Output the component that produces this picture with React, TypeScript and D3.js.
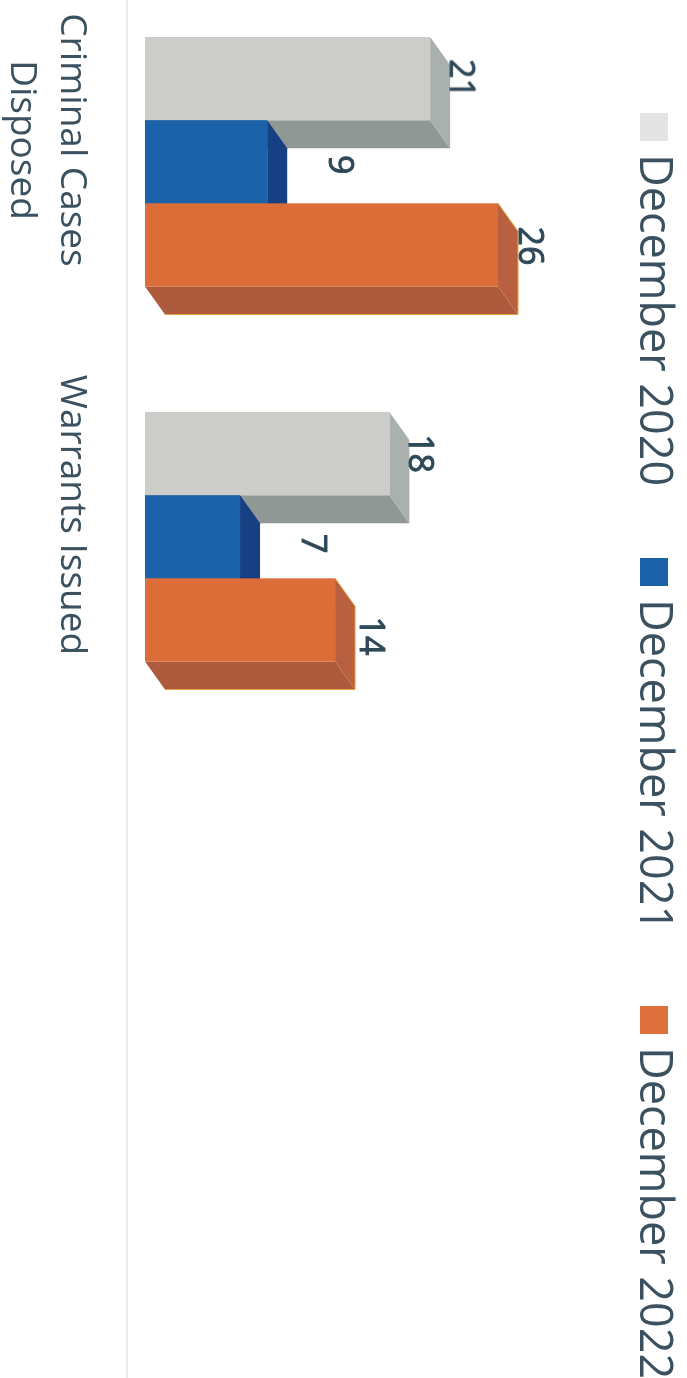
import * as d3 from "d3"
import React from "react"

const categories = ["Criminal Cases Disposed", "Warrants Issued"]
const categoryLines = [["Criminal Cases", "Disposed"], ["Warrants Issued"]]
const seriesNames = ["December 2020", "December 2021", "December 2022"]
const december2020 = [21, 18]
const december2021 = [9, 7]
const december2022 = [26, 14]
const seriesValues = [december2020, december2021, december2022]

const width = 687
const height = 1378
const FONT = "'Open Sans', 'Noto Sans', sans-serif"
const TEXT = "#3a5160"
const LABEL_COLOR = "#2f4858"

// the chart was scanned sideways, so value runs along x and categories along y
const x = d3.scaleLinear().domain([0, 26]).range([145, 498])
const y0 = d3.scaleBand<string>().domain(categories).range([37, 787])
const y1 = d3.scaleBand<string>().domain(seriesNames).range([0, 249.5])

const depthX = 20
const depthY = 28

const palette = [
  { front: "#cccdc9", side: "#a9b0ad", bottom: "#8f9895", swatch: "#e4e4e4", edge: "none" },
  { front: "#1f62a8", side: "#173f83", bottom: "#173f83", swatch: "#1f62a8", edge: "none" },
  { front: "#dc6c38", side: "#b9603f", bottom: "#ad5a3c", swatch: "#de6f3c", edge: "#e8a23c" },
]

// hand nudges for the value labels: [series][category] => [dx, dy]
const labelNudge = [
  [[20, 0], [20, 0]],
  [[62, 3], [62, 7]],
  [[21, 1], [25, 16]],
]

const legendY = [113, 558, 1006]

const poly = (pts: number[][]) => pts.map((p) => p.join(",")).join(" ")

function Bar({ cat, s }: { cat: number; s: number }) {
  const value = seriesValues[s][cat]
  const c = palette[s]
  const top = y0(categories[cat])! + y1(seriesNames[s])!
  const bottom = top + y1.bandwidth()
  const x0 = x(0)
  const x1 = x(value)
  const [dx, dy] = labelNudge[s][cat]
  const lx = x1 + dx
  const ly = (top + bottom) / 2 + dy
  return (
    <g>
      <polygon
        points={poly([[x0, bottom], [x0 + depthX, bottom + depthY], [x1 + depthX, bottom + depthY], [x1, bottom]])}
        fill={c.bottom}
      />
      <polygon
        points={poly([[x1, top], [x1 + depthX, top + depthY], [x1 + depthX, bottom + depthY], [x1, bottom]])}
        fill={c.side}
      />
      {c.edge !== "none" && (
        <polyline
          points={poly([[x1, top], [x1 + depthX, top + depthY], [x1 + depthX, bottom + depthY], [x0 + depthX, bottom + depthY]])}
          fill="none"
          stroke={c.edge}
          strokeWidth={1}
        />
      )}
      <rect x={x0} y={top} width={x1 - x0} height={bottom - top} fill={c.front} />
      <text
        transform={`translate(${lx},${ly}) rotate(90)`}
        textAnchor="middle"
        fontFamily={FONT}
        fontSize={34}
        fill={LABEL_COLOR}
        stroke={LABEL_COLOR}
        strokeWidth={0.9}
      >
        {value}
      </text>
    </g>
  )
}

export default function App() {
  return (
    <svg
      width={width}
      height={height}
      style={{ position: "absolute", left: 0, top: 0, display: "block", background: "#fff" }}
    >
      <defs>
        <filter id="scan" x="0" y="0" width="100%" height="100%">
          <feGaussianBlur stdDeviation="0.5" />
        </filter>
      </defs>
      <g filter="url(#scan)">
        <line x1={127} x2={127} y1={0} y2={height} stroke="#d6dee2" strokeWidth={1.2} />

        {categories.map((name, cat) => (
          <g key={name}>
            {seriesNames.map((sn, s) => (
              <Bar key={sn} cat={cat} s={s} />
            ))}
            {categoryLines[cat].map((line, i) => (
              <text
                key={line}
                transform={`translate(${61 - i * 50},${y0(name)! + 103}) rotate(90)`}
                textAnchor="middle"
                fontFamily={FONT}
                fontSize={37}
                fill={TEXT}
              >
                {line}
              </text>
            ))}
          </g>
        ))}

        {seriesNames.map((sn, s) => (
          <g key={sn}>
            <rect x={640} y={legendY[s]} width={28} height={28} fill={palette[s].swatch} />
            <text
              transform={`translate(640,${legendY[s] + 41}) rotate(90)`}
              fontFamily={FONT}
              fontSize={45}
              fill={TEXT}
            >
              {sn}
            </text>
          </g>
        ))}
      </g>
    </svg>
  )
}
